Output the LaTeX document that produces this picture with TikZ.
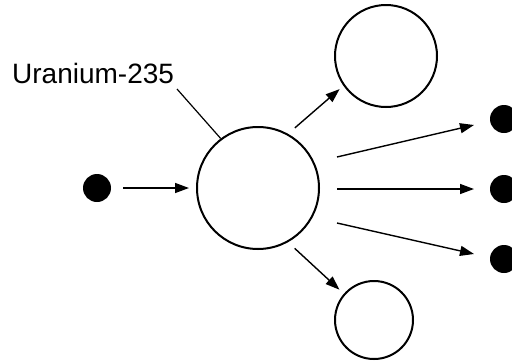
\documentclass[tikz,border=0pt]{standalone}
\usepackage{fontspec}
\setmainfont{Liberation Sans}
\usetikzlibrary{arrows.meta}
\begin{document}
\begin{tikzpicture}[x=1pt,y=-1pt,
  atom/.style={circle,draw=black,line width=2pt,inner sep=0pt},
  particle/.style={circle,fill=black,inner sep=0pt,minimum size=28pt},
  arr/.style={line width=1.4pt,-{Triangle[length=14pt,width=10pt]}},
  lead/.style={line width=1.2pt}]
\useasboundingbox[fill=white] (0,0) rectangle (512,362);
\node[atom,minimum size=122pt] (big) at (258,188) {};
\node[atom,minimum size=102pt] (top) at (386,56) {};
\node[atom,minimum size=78pt] (bot) at (374,320) {};
\node[particle] (n0) at (97,188) {};
\node[particle] (n1) at (504,119) {};
\node[particle] (n2) at (504,189) {};
\node[particle] (n3) at (504,259) {};
\node[anchor=base west,inner sep=0pt,font=\fontsize{28}{30}\selectfont] (lbl) at (12,83) {Uranium-235};
\coordinate (la) at (177,89);
\draw[lead] (la) -- (big.127);
\draw[arr,shorten <=12pt,shorten >=7pt] (n0) -- (big);
\draw[arr,shorten <=9pt,shorten >=5pt] (big.61) -- (top.215);
\draw[arr,shorten <=9pt,shorten >=6pt] (big.299) -- (bot.139);
\coordinate (s1) at (337,157);
\coordinate (s2) at (337,189);
\coordinate (s3) at (337,223);
\coordinate (e1) at (474,125);
\coordinate (e2) at (474,189);
\coordinate (e3) at (474,254);
\draw[arr] (s1) -- (e1);
\draw[arr] (s2) -- (e2);
\draw[arr] (s3) -- (e3);
\end{tikzpicture}
\end{document}
